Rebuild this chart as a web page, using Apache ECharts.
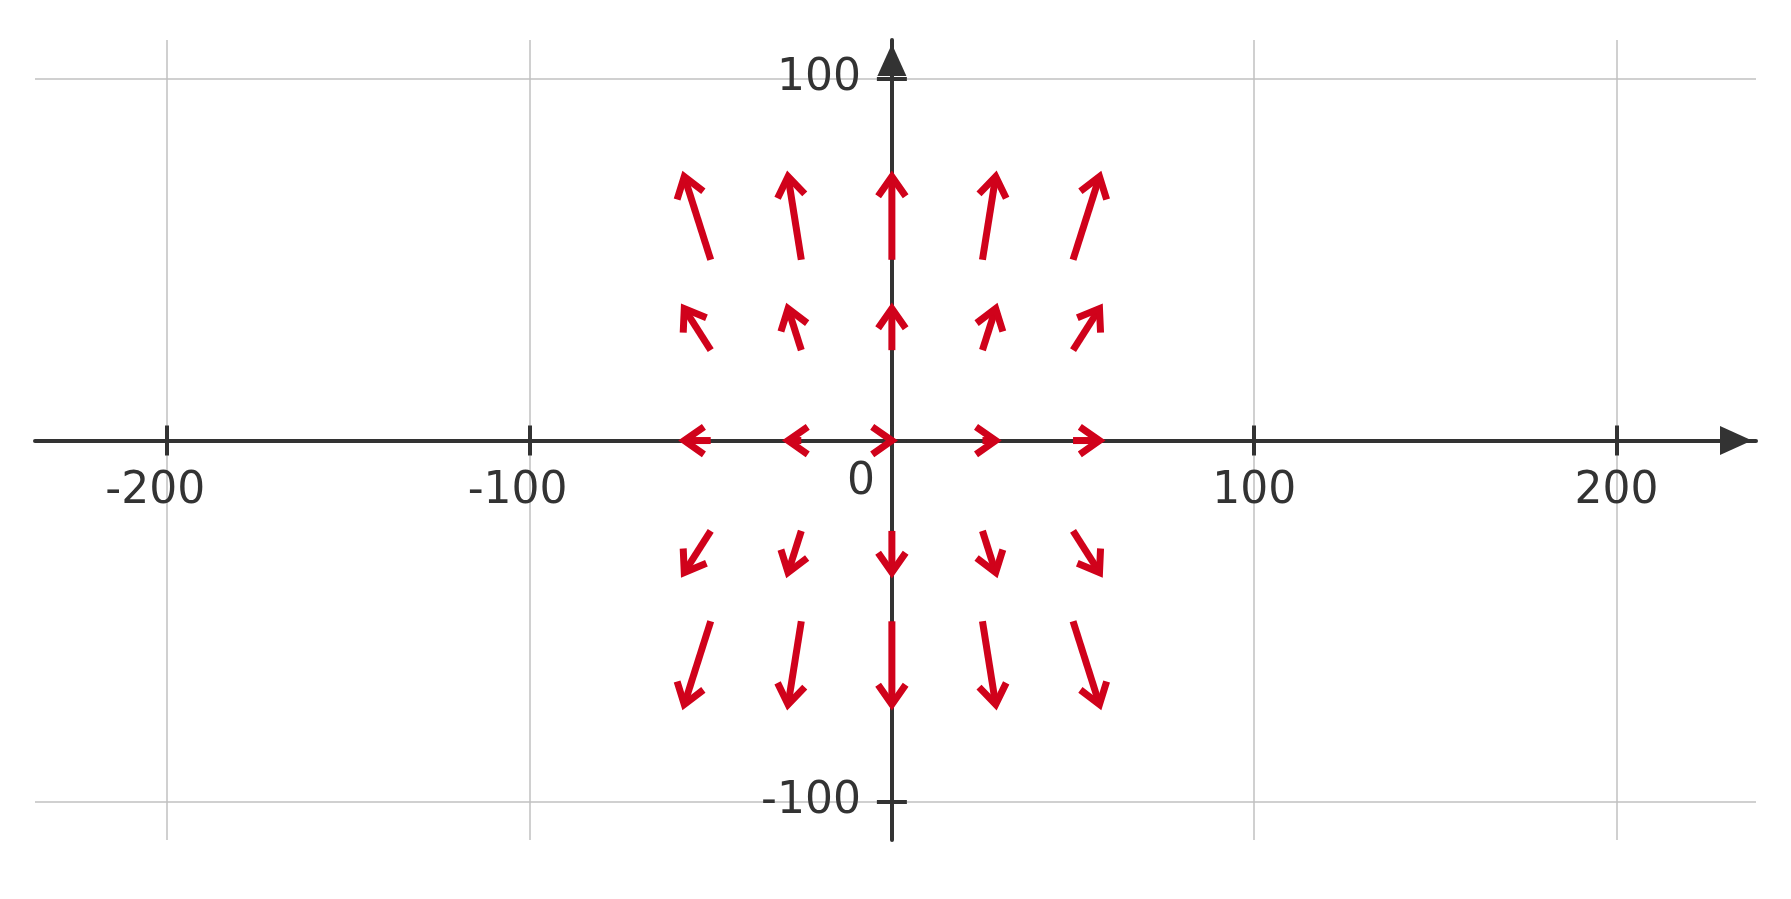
<!DOCTYPE html>
<html>
<head>
<meta charset="utf-8">
<script src="https://cdn.jsdelivr.net/npm/echarts@6/dist/echarts.min.js"></script>
<style>
html,body{margin:0;padding:0;background:#fff;}
#chart{width:1791px;height:899px;}
</style>
</head>
<body>
<div id="chart"></div>
<script>
// Axis ticks and labels
const xTicks = [-200, -100, 0, 100, 200];
const xLabels = [-200, -100, 100, 200];
const yTicks = [-100, 0, 100];
const yLabels = [-100, 100];
const zeroLabel = [0];

// Arrow tails (x, y) and vector components (u, v), row by row from top
const arrowX = [-50, -25, 0, 25, 50,  -50, -25, 0, 25, 50,  -50, -25, 0, 25, 50,  -50, -25, 0, 25, 50,  -50, -25, 0, 25, 50];
const arrowY = [50, 50, 50, 50, 50,  25, 25, 25, 25, 25,  0, 0, 0, 0, 0,  -25, -25, -25, -25, -25,  -50, -50, -50, -50, -50];
const arrowU = [-7.3, -3.65, 0, 3.65, 7.3,  -7.3, -3.65, 0, 3.65, 7.3,  -7.3, -3.65, 0, 3.65, 7.3,  -7.3, -3.65, 0, 3.65, 7.3,  -7.3, -3.65, 0, 3.65, 7.3];
const arrowV = [23, 23, 23, 23, 23,  11.5, 11.5, 11.5, 11.5, 11.5,  0, 0, 0, 0, 0,  -11.5, -11.5, -11.5, -11.5, -11.5,  -23, -23, -23, -23, -23];

const arrowData = arrowX.map((x, i) => [x, arrowY[i], arrowU[i], arrowV[i]]);

const AXIS = '#333333';
const GRIDC = '#c0c0c0';
const RED = '#d0021b';
const FONT = 'DejaVu Sans';
const FS = 44;
const XMIN = -236.5, XMAX = 238.5, YMIN = -110.5, YMAX = 110.8;

const chart = echarts.init(document.getElementById('chart'), null, {renderer: 'canvas'});
const CW = chart.getWidth(), CH = chart.getHeight();
const G = {left: 35, right: 35, top: 40, bottom: 59};
const gw = CW - G.left - G.right, gh = CH - G.top - G.bottom;
// place axes through the origin (pixel distance of zero from grid edges)
const zeroFromLeft = gw * (0 - XMIN) / (XMAX - XMIN);
const zeroFromTop = gh * (YMAX - 0) / (YMAX - YMIN);
const offBottom = -(gh - zeroFromTop);
const offTop = -zeroFromTop;
const offLeft = -zeroFromLeft;
const offRight = -(gw - zeroFromLeft);

const tickStyle = {color: AXIS, width: 4};

const option = {
  animation: false,
  backgroundColor: '#ffffff',
  grid: {left: G.left, right: G.right, top: G.top, bottom: G.bottom, containLabel: false, outerBoundsMode: 'none'},
  xAxis: [
    {
      type: 'value', min: XMIN, max: XMAX, position: 'bottom', offset: offBottom,
      axisLine: {onZero: false, symbol: ['none', 'triangle'], symbolSize: [29, 32], symbolOffset: [0, -20],
                 lineStyle: {color: AXIS, width: 4}},
      axisTick: {show: true, customValues: xTicks, length: 15, lineStyle: tickStyle},
      axisLabel: {
        customValues: xLabels, margin: 29, fontSize: FS, fontFamily: FONT, color: AXIS,
        formatter: v => v < 0 ? '{n|' + v + '}' : '{p|' + v + '}',
        rich: {
          n: {padding: [0, 24, 0, 0], fontSize: FS, fontFamily: FONT, color: AXIS},
          p: {fontSize: FS, fontFamily: FONT, color: AXIS}
        }
      },
      splitLine: {show: true, lineStyle: {color: GRIDC, width: 1.5}}
    },
    {
      type: 'value', min: XMIN, max: XMAX, position: 'top', offset: offTop,
      axisLine: {show: false, onZero: false},
      axisTick: {show: true, customValues: xTicks, length: 15, lineStyle: tickStyle},
      axisLabel: {show: false},
      splitLine: {show: false}
    },
    {
      type: 'value', min: XMIN, max: XMAX, position: 'bottom', offset: offBottom,
      axisLine: {show: false, onZero: false},
      axisTick: {show: false, customValues: zeroLabel},
      axisLabel: {customValues: zeroLabel, margin: 20, align: 'right', padding: [0, 17, 0, 0],
                  fontSize: FS, fontFamily: FONT, color: AXIS},
      splitLine: {show: false}
    }
  ],
  yAxis: [
    {
      type: 'value', min: YMIN, max: YMAX, position: 'left', offset: offLeft,
      axisLine: {onZero: false, symbol: ['none', 'triangle'], symbolSize: [29, 32], symbolOffset: [0, -20],
                 lineStyle: {color: AXIS, width: 4}},
      axisTick: {show: true, customValues: yTicks, length: 15, lineStyle: tickStyle},
      axisLabel: {customValues: yLabels, margin: 31, fontSize: FS, fontFamily: FONT, color: AXIS},
      splitLine: {show: true, lineStyle: {color: GRIDC, width: 1.5}}
    },
    {
      type: 'value', min: YMIN, max: YMAX, position: 'right', offset: offRight,
      axisLine: {show: false, onZero: false},
      axisTick: {show: true, customValues: yTicks, length: 15, lineStyle: tickStyle},
      axisLabel: {show: false},
      splitLine: {show: false}
    }
  ],
  series: [
    {
      type: 'custom',
      xAxisIndex: 0, yAxisIndex: 0,
      data: arrowData,
      z: 5,
      renderItem: function (params, api) {
        const x = api.value(0), y = api.value(1), u = api.value(2), v = api.value(3);
        const p0 = api.coord([x, y]);
        const p1 = api.coord([x + u, y + v]);
        const ang = Math.atan2(p1[1] - p0[1], p1[0] - p0[0]);
        const L = 24, th = 35 * Math.PI / 180;
        const w1 = [p1[0] - L * Math.cos(ang - th), p1[1] - L * Math.sin(ang - th)];
        const w2 = [p1[0] - L * Math.cos(ang + th), p1[1] - L * Math.sin(ang + th)];
        return {
          type: 'group',
          children: [
            {type: 'line', shape: {x1: p0[0], y1: p0[1], x2: p1[0], y2: p1[1]},
             style: {stroke: RED, lineWidth: 7, lineCap: 'butt'}},
            {type: 'polyline', shape: {points: [w1, p1, w2]},
             style: {stroke: RED, lineWidth: 7, lineJoin: 'miter', miterLimit: 10, fill: null}}
          ]
        };
      }
    }
  ]
};

chart.setOption(option);
</script>
</body>
</html>
